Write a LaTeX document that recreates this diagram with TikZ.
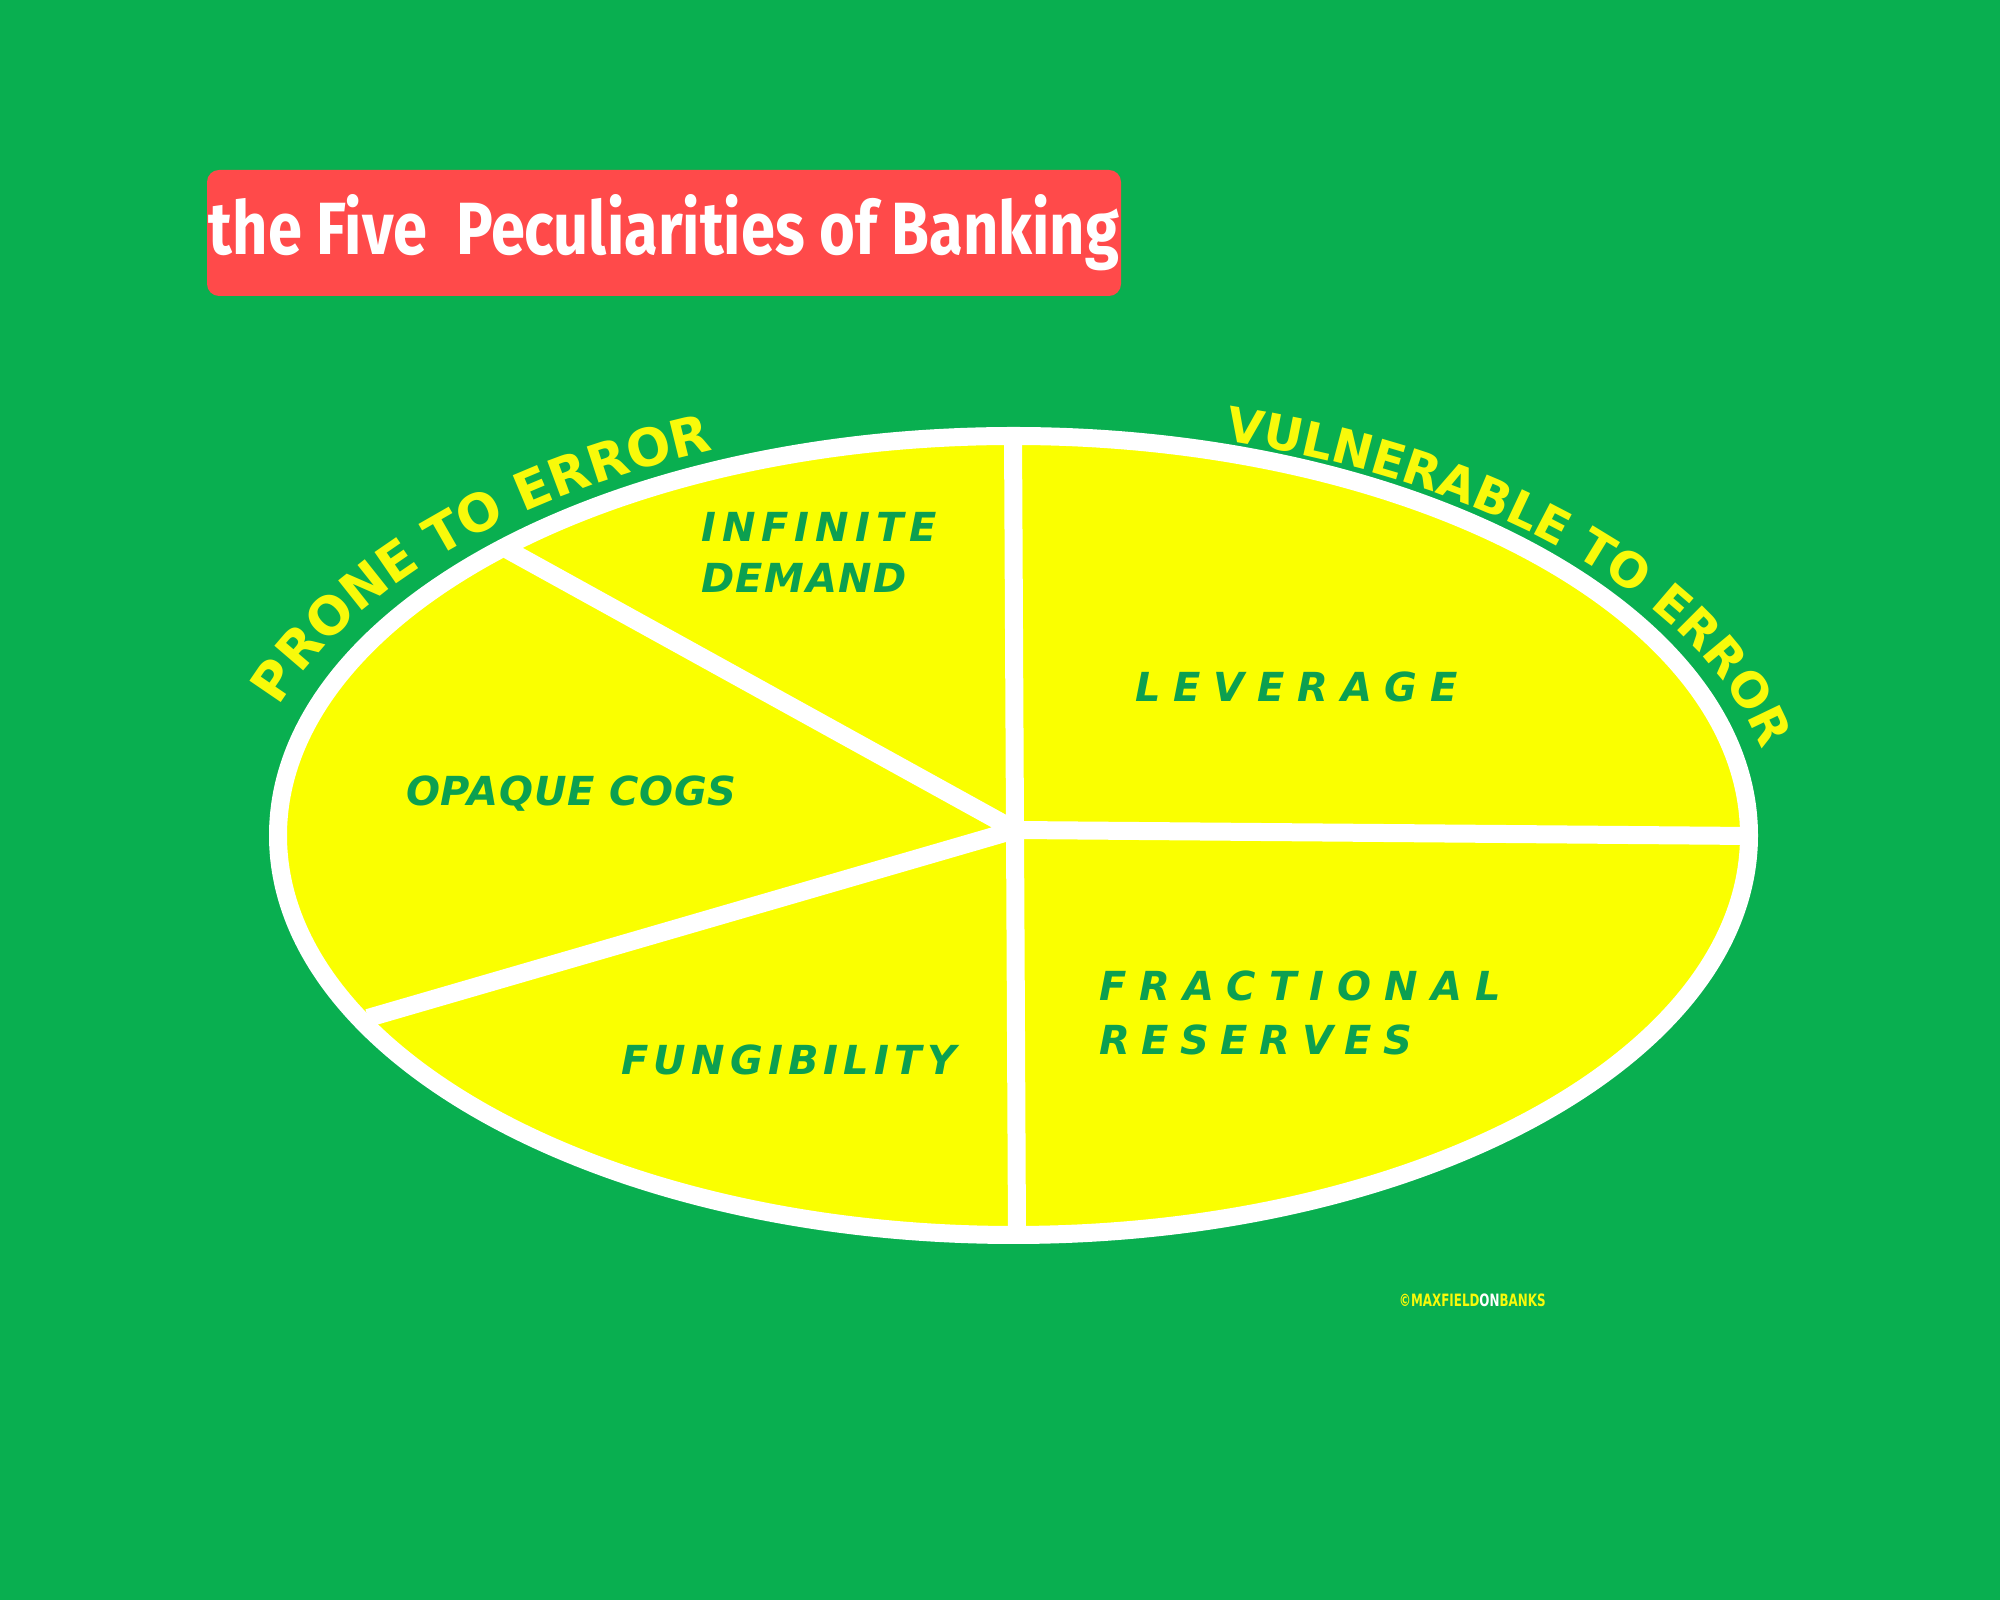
\documentclass[tikz,border=0pt]{standalone}
\usepackage{fontspec}
\usetikzlibrary{decorations.text}
\newfontfamily\titlefont[FakeStretch=0.83]{Fira Sans}
\newfontfamily\curvefont{DejaVu Sans}
\newfontfamily\cellfont{DejaVu Sans}
\newfontfamily\markfont[FakeStretch=0.7]{DejaVu Sans}
\definecolor{bggreen}{RGB}{9,175,80}
\definecolor{pieyellow}{RGB}{250,255,0}
\definecolor{titlered}{RGB}{255,74,74}
\definecolor{cellgreen}{RGB}{12,160,80}
\definecolor{curveyellow}{RGB}{248,250,10}

\begin{document}
\begin{tikzpicture}[x=1pt,y=1pt,
    titlebox/.style={fill=titlered, rounded corners=12pt, minimum width=914pt, minimum height=126pt, inner sep=0pt, text=white, font=\titlefont\bfseries\fontsize{74pt}{80pt}\selectfont},
    divider/.style={draw=white, line width=18pt},
    ring/.style={draw=white, line width=18pt},
    cell/.style={anchor=base west, inner sep=0pt, text=cellgreen, font=\cellfont\fontsize{40pt}{48pt}\selectfont\bfseries\itshape\addfontfeatures{LetterSpace=#1}},
    cell/.default=8,
    prone/.style={decorate, decoration={text along path, text align=center, text color=curveyellow, text={|\curvefont\bfseries\fontsize{52pt}{60pt}\selectfont|#1}}},
    vuln/.style={decorate, decoration={text along path, text align=left, text color=curveyellow, text={|\curvefont\bfseries\fontsize{48pt}{60pt}\selectfont|#1}}}
]
\fill[bggreen] (0,0) rectangle (2000,1600);
\useasboundingbox (0,0) rectangle (2000,1600);

\node[titlebox] (title) at (664,1367) {the Five~ Peculiarities of Banking};

\coordinate (c) at (1013.5,764.5);
\coordinate (hub) at (1015,770);
\coordinate (top) at (1013,1168);
\coordinate (bot) at (1017,362);
\coordinate (rim) at (1749,764);
\coordinate (ul) at (508,1050);
\coordinate (ll) at (368,582);

\fill[pieyellow] (c) ellipse[x radius=735.5pt, y radius=399.5pt];
\draw[divider] (top) -- (hub) -- (bot);
\draw[divider] (hub) -- (rim);
\draw[divider] (ul) -- (hub) -- (ll);
\draw[ring] (c) ellipse[x radius=735.5pt, y radius=399.5pt];

\path[prone={PRONE TO ERROR}] (c) ++(165:772pt and 418pt) arc[start angle=165, end angle=111, x radius=772pt, y radius=418pt];
\path[vuln={VULNERABLE TO ERROR}] (c) ++(74:765pt and 411pt) arc[start angle=74, end angle=-10, x radius=765pt, y radius=411pt];

\node[cell=15] (infinite) at (701,1058) {INFINITE};
\node[cell=4] (demand) at (701,1007) {DEMAND};
\node[cell=2] (opaque) at (406,794) {OPAQUE COGS};
\node[cell=32] (leverage) at (1135,898) {LEVERAGE};
\node[cell=33] (fractional) at (1099,599) {FRACTIONAL};
\node[cell=29] (reserves) at (1099,545) {RESERVES};
\node[cell=13] (fungibility) at (621,525) {FUNGIBILITY};

\node[anchor=base west, inner sep=0pt, text=curveyellow, font=\markfont\bfseries\fontsize{17pt}{20pt}\selectfont] (mark) at (1399,293) {©MAXFIELD\textcolor{white}{ON}BANKS};
\end{tikzpicture}
\end{document}
